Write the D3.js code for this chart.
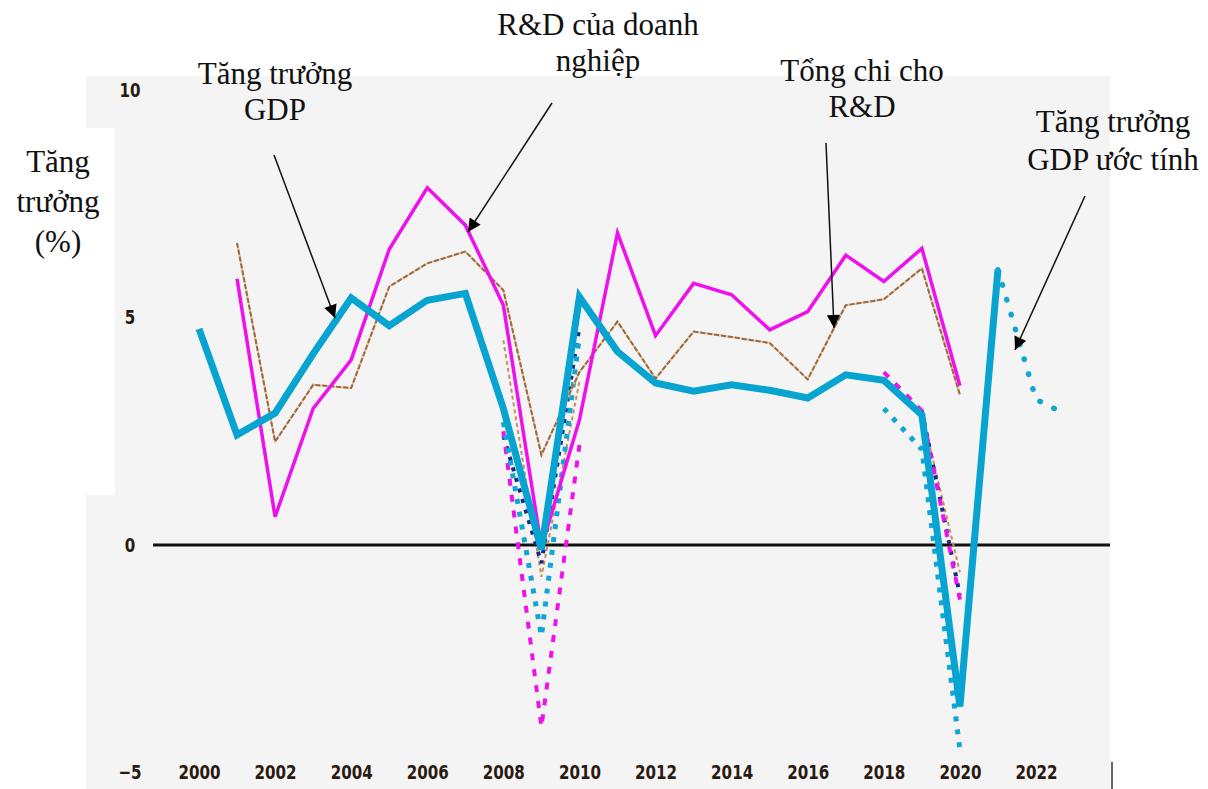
<!DOCTYPE html>
<html>
<head>
<meta charset="utf-8">
<script src="https://cdn.jsdelivr.net/npm/d3@7"></script>
<style>
  html, body { margin: 0; padding: 0; background: #ffffff; }
  svg { display: block; }
  .tick text { font-family: "Liberation Sans Narrow", "DejaVu Sans Condensed", "Liberation Sans", sans-serif; font-weight: bold; fill: #2a1a10; }
  .ann { font-family: "Liberation Serif", "DejaVu Serif", serif; font-size: 31px; fill: #111; }
</style>
</head>
<body>
<script>
// ---------- DATA ----------
const years = [2000,2001,2002,2003,2004,2005,2006,2007,2008,2009,2010,2011,2012,2013,2014,2015,2016,2017,2018,2019,2020,2021];
const gdpGrowth = [4.75,2.42,2.9,4.2,5.43,4.82,5.38,5.53,3.0,-0.1,5.45,4.25,3.56,3.38,3.52,3.4,3.23,3.74,3.62,2.86,-3.55,6.05];
const businessRD = [null,5.85,0.62,3.0,4.07,6.5,7.85,7.03,5.27,-0.05,2.75,6.86,4.6,5.75,5.5,4.73,5.13,6.37,5.79,6.52,3.5,null];
const totalRD = [null,6.64,2.27,3.52,3.45,5.68,6.19,6.45,5.6,1.98,3.8,4.91,3.66,4.69,4.57,4.44,3.64,5.27,5.4,6.08,3.3,null];

// estimated GDP growth (dotted continuation)
const gdpEstYears = [2021,2022,2022.6];
const gdpEstValues = [6.05,3.2,2.95];

// crisis projections (dotted / dashed)
const crisis1Years = [2008,2009,2010];
const crisis1Gdp = [2.7,-2.0,4.6];
const crisis1Business = [2.5,-4.0,2.2];
const crisis1Navy = [2.4,-0.4,4.8];
const crisis1Total = [4.5,-0.7,3.6];

const crisis2Years = [2018,2019,2020];
const crisis2Gdp = [3.0,2.1,-4.5];
const crisis2Business = [3.8,2.95,-1.2];
const crisis2NavyYears = [2019,2020];
const crisis2Navy = [2.95,-1.1];
const crisis2TotalYears = [2019,2020];
const crisis2Total = [2.9,-0.6];

const xTickYears = [2000,2002,2004,2006,2008,2010,2012,2014,2016,2018,2020,2022];
const yTickValues = [-5,0,5,10];

// ---------- DRAW ----------
const W = 1208, H = 789;
const svg = d3.select("body").append("svg").attr("width", W).attr("height", H);

// panel background
svg.append("rect").attr("x", 86).attr("y", 76).attr("width", 1110-86).attr("height", H-76).attr("fill", "#f4f4f4");
// white box behind y-axis title
svg.append("rect").attr("x", 0).attr("y", 128).attr("width", 115).attr("height", 495-128).attr("fill", "#ffffff");

const x = d3.scaleLinear().domain([2000, 2022]).range([199, 1036]);
const y = d3.scaleLinear().domain([-5, 10]).range([772.5, 90]);

// axes (labels only)
const xAxis = svg.append("g").attr("transform", `translate(0,${y(-5) - 8})`)
  .call(d3.axisBottom(x).tickValues(xTickYears).tickFormat(d3.format("d")).tickSize(0));
xAxis.select(".domain").remove();
xAxis.selectAll("text").attr("font-size", 20).attr("dy", "0.71em").attr("y", 0)
  .attr("transform", "scale(0.84,1)");

const yAxis = svg.append("g").attr("transform", `translate(130,0)`)
  .call(d3.axisLeft(y).tickValues(yTickValues).tickFormat(d => d < 0 ? "\u2212" + Math.abs(d) : d).tickSize(0));
yAxis.select(".domain").remove();
yAxis.selectAll("text").attr("font-size", 20).attr("x", 0).attr("text-anchor", "middle")
  .attr("transform", "scale(0.84,1)");

// zero line
svg.append("line").attr("x1", 153).attr("x2", 1110).attr("y1", y(0)).attr("y2", y(0))
  .attr("stroke", "#111").attr("stroke-width", 3);

// small vertical line at bottom right
svg.append("line").attr("x1", 1112).attr("x2", 1112).attr("y1", 762).attr("y2", 789)
  .attr("stroke", "#333").attr("stroke-width", 1.5);

const line = d3.line().defined(d => d[1] != null).x(d => x(d[0])).y(d => y(d[1]));
const zip = (a, b) => a.map((v, i) => [v, b[i]]);

function path(data, stroke, width, dash, cap) {
  svg.append("path").datum(data).attr("d", line)
    .attr("fill", "none").attr("stroke", stroke).attr("stroke-width", width)
    .attr("stroke-dasharray", dash || null)
    .attr("stroke-linecap", cap || "butt").attr("stroke-linejoin", "miter");
}

// crisis projections (behind)
path(zip(crisis1Years, crisis1Total), "#c8905a", 2, "4 3");
path(zip(crisis1Years, crisis1Navy), "#1c2a86", 4, "4 7");
path(zip(crisis1Years, crisis1Business), "#ee11ee", 4, "7 9");
path(zip(crisis1Years, crisis1Gdp), "#12a6d4", 5, "5 8");

path(zip(crisis2TotalYears, crisis2Total), "#c8905a", 2, "4 3");
path(zip(crisis2NavyYears, crisis2Navy), "#1c2a86", 4, "4 7");
path(zip(crisis2Years, crisis2Business), "#ee11ee", 4, "7 9");
path(zip(crisis2Years, crisis2Gdp), "#12a6d4", 5, "5 8");

// main series
path(zip(years, totalRD), "#e2c2a0", 2);
path(zip(years, totalRD), "#9c6a40", 2, "5 2");
path(zip(years, businessRD), "#ee11ee", 3.5);
path(zip(years, gdpGrowth), "#07a4d2", 7);

// estimated GDP dotted
path(zip(gdpEstYears, gdpEstValues), "#12a6d4", 5.5, "0.5 15", "round");

// ---------- ANNOTATIONS ----------
const defs = svg.append("defs");
defs.append("marker").attr("id", "ah").attr("viewBox", "0 0 10 10")
  .attr("refX", 10).attr("refY", 5).attr("markerWidth", 15).attr("markerHeight", 13)
  .attr("markerUnits", "userSpaceOnUse").attr("orient", "auto")
  .append("path").attr("d", "M0,0 L10,5 L0,10 Z").attr("fill", "#000");

function arrow(x1, y1, x2, y2) {
  svg.append("line").attr("x1", x1).attr("y1", y1).attr("x2", x2).attr("y2", y2)
    .attr("stroke", "#111").attr("stroke-width", 1.5).attr("marker-end", "url(#ah)");
}
function label(lines, cx, y0, dy) {
  const t = svg.append("text").attr("class", "ann").attr("text-anchor", "middle");
  lines.forEach((s, i) => t.append("tspan").attr("x", cx).attr("y", y0 + i * dy).text(s));
}

label(["Tăng", "trưởng", "(%)"], 58, 172, 40);
label(["Tăng trưởng", "GDP"], 275, 84, 36);
label(["R&D của doanh", "nghiệp"], 598, 35, 36);
label(["Tổng chi cho", "R&D"], 862, 81, 36);
label(["Tăng trưởng", "GDP ước tính"], 1113, 132, 38);

arrow(274, 155, 335, 318);
arrow(552, 103, 468, 232);
arrow(826, 143, 834, 328);
arrow(1085, 196, 1015, 350);
</script>
</body>
</html>
